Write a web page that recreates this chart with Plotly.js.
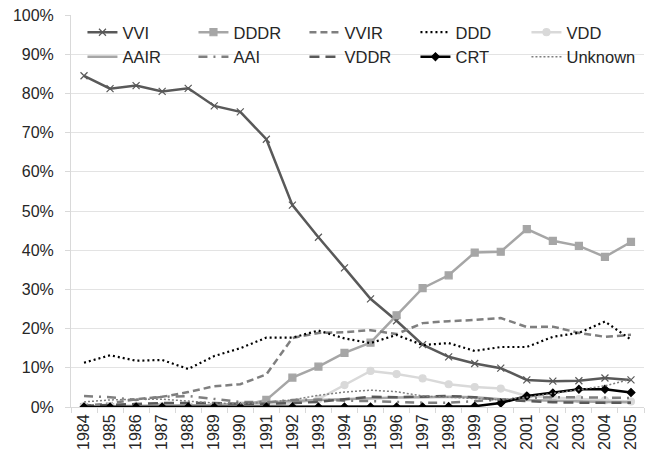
<!DOCTYPE html>
<html>
<head>
<meta charset="utf-8">
<script src="https://cdn.plot.ly/plotly-3.0.1.min.js"></script>
<style>
html,body{margin:0;padding:0;background:#fff;}
#chart{width:645px;height:456px;}
</style>
</head>
<body>
<div id="chart"></div>
<script>
var years = ["1984","1985","1986","1987","1988","1989","1990","1991","1992","1993","1994","1995","1996","1997","1998","1999","2000","2001","2002","2003","2004","2005"];

var vvi     = [84.5,81.2,82.0,80.5,81.3,76.8,75.3,68.3,51.5,43.3,35.5,27.6,22.0,15.9,12.8,11.1,9.9,6.9,6.6,6.7,7.4,6.9];
var dddr    = [0,0,0,0,0,0,0.3,1.8,7.5,10.3,13.8,16.4,23.4,30.3,33.6,39.4,39.6,45.4,42.4,41.1,38.3,42.1];
var vvir    = [0.3,0.9,2.0,2.6,3.8,5.3,5.8,8.3,17.6,18.9,19.1,19.6,18.6,21.4,21.9,22.2,22.7,20.4,20.5,18.9,17.9,18.4];
var ddd     = [11.3,13.2,11.8,12.0,9.7,13.0,15.0,17.7,17.7,19.5,17.5,16.3,18.4,15.8,16.3,14.3,15.3,15.3,17.9,18.9,21.8,17.2];
var vdd     = [0.2,0.2,0.2,0.2,0.2,0.2,0.3,0.5,0.9,2.0,5.6,9.2,8.4,7.3,5.8,5.1,4.7,2.8,2.4,2.0,1.7,1.4];
var aair    = [0.1,0.2,0.3,0.3,0.4,0.5,0.8,1.2,1.5,1.8,2.0,2.3,2.4,2.5,2.6,2.5,2.0,1.8,1.6,1.5,1.3,1.2];
var aai     = [2.8,2.5,1.8,2.6,2.8,2.0,1.3,1.2,1.8,1.9,1.6,1.5,1.3,1.1,1.1,1.5,1.9,2.3,2.5,2.5,2.4,2.3];
var vddr    = [0.3,0.5,0.8,1.0,1.0,1.0,0.8,0.8,1.0,1.3,2.0,2.6,2.5,2.6,2.8,2.5,1.8,1.5,1.2,1.1,1.1,1.1];
var crt     = [0,0,0,0,0,0,0,0,0,0,0,0,0,0,0.1,0.2,1.0,2.8,3.6,4.5,4.5,3.7];
var unknown = [1.3,1.8,2.0,2.0,1.5,1.0,0.8,1.2,1.8,3.0,3.8,4.3,3.9,2.8,2.5,2.2,1.8,2.5,3.4,4.4,5.4,7.1];

var names = ["VVI","DDDR","VVIR","DDD","VDD","AAIR","AAI","VDDR","CRT","Unknown"];

function tr(name, vals, color, width, dash, sym, msize) {
  var t = {
    type: 'scatter',
    x: years,
    y: vals.map(function(v){return v/100;}),
    name: name,
    mode: sym ? 'lines+markers' : 'lines',
    line: {color: color, width: width, dash: dash || 'solid'},
    hoverinfo: 'skip'
  };
  if (sym) {
    t.marker = {symbol: sym, size: msize, color: color, line: {color: color, width: 1.2}};
  }
  return t;
}

var data = [
  tr(names[0], vvi, '#595959', 2.5, 'solid', 'x-thin-open', 7),
  tr(names[1], dddr, '#a6a6a6', 2.5, 'solid', 'square', 7),
  tr(names[2], vvir, '#7f7f7f', 2.5, '7px,4px', null),
  tr(names[3], ddd, '#000000', 2.2, '2px,3px', null),
  tr(names[4], vdd, '#d9d9d9', 2.5, 'solid', 'circle', 7),
  tr(names[5], aair, '#a6a6a6', 2.5, 'solid', null),
  tr(names[6], aai, '#7f7f7f', 2.5, '9px,6px,2px,6px', null),
  tr(names[7], vddr, '#595959', 2.5, '10px,6px', null),
  tr(names[8], crt, '#000000', 2.5, 'solid', 'diamond', 6),
  tr(names[9], unknown, '#7f7f7f', 1.5, '2px,2px', null)
];

var layout = {
  width: 645,
  height: 456,
  margin: {l: 71, r: 1, t: 15, b: 49},
  paper_bgcolor: '#ffffff',
  plot_bgcolor: '#ffffff',
  font: {family: 'Liberation Sans, Arial, sans-serif', size: 16, color: '#262626'},
  showlegend: true,
  legend: {
    orientation: 'h',
    x: 0.02, xanchor: 'left',
    y: 1.0, yanchor: 'top',
    entrywidth: 66, entrywidthmode: 'pixels',
    font: {size: 16.5, color: '#262626'},
    bgcolor: 'rgba(255,255,255,0)',
    traceorder: 'normal'
  },
  xaxis: {
    type: 'category',
    range: [-0.5, 21.5],
    tickangle: -90,
    showgrid: false,
    showline: true,
    linecolor: '#d9d9d9',
    linewidth: 1,
    ticks: 'outside',
    tickson: 'boundaries',
    ticklen: 5,
    tickcolor: '#d9d9d9',
    tickfont: {size: 16, color: '#262626'},
    zeroline: false,
    fixedrange: true
  },
  yaxis: {
    range: [0, 1],
    tickvals: [0,0.1,0.2,0.3,0.4,0.5,0.6,0.7,0.8,0.9,1.0],
    tickformat: '.0%',
    showgrid: true,
    gridcolor: '#e3e3e3',
    gridwidth: 1,
    showline: true,
    linecolor: '#d9d9d9',
    ticks: 'outside',
    ticklen: 5,
    tickcolor: '#d9d9d9',
    ticklabelstandoff: 8,
    tickfont: {size: 16, color: '#262626'},
    zeroline: false,
    fixedrange: true
  }
};

Plotly.newPlot('chart', data, layout, {displayModeBar: false, staticPlot: true});
</script>
</body>
</html>
